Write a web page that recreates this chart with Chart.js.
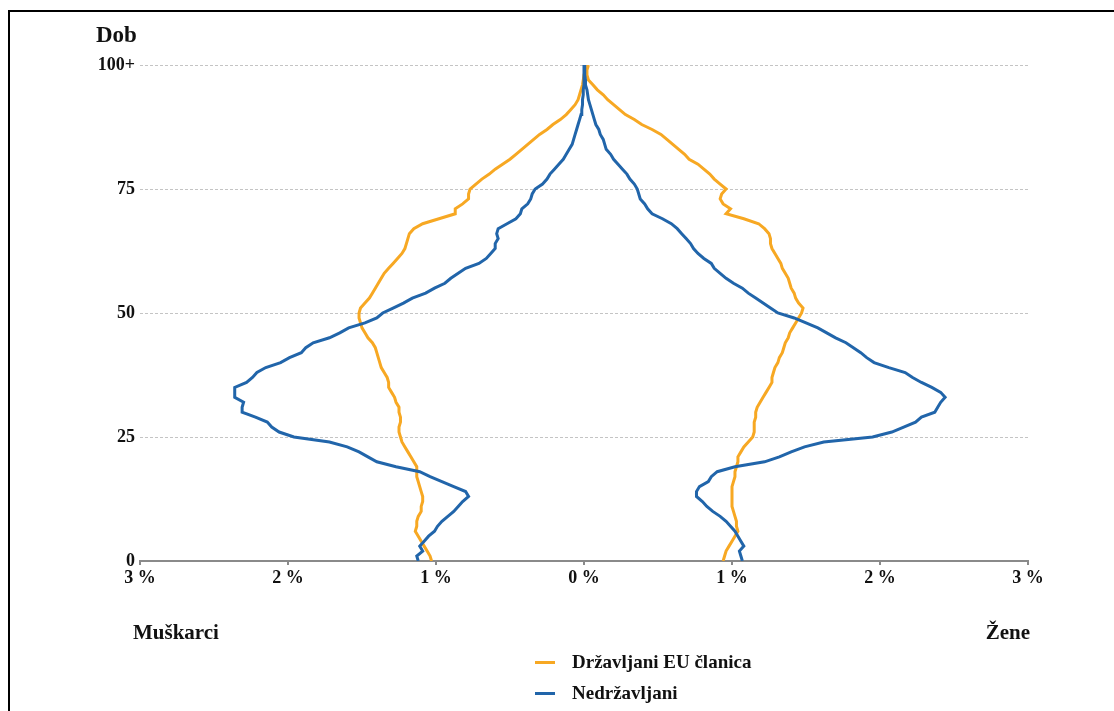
<!DOCTYPE html>
<html>
<head>
<meta charset="utf-8">
<script src="https://cdn.jsdelivr.net/npm/chart.js@4"></script>
<style>
  html, body { margin: 0; padding: 0; background: #fff; }
  body { width: 1114px; height: 711px; position: relative; overflow: hidden; font-family: "Liberation Serif", serif; font-weight: bold; color: #111; }
  #frame { position: absolute; left: 8px; top: 10px; width: 1200px; height: 760px; border-left: 2px solid #000; border-top: 2px solid #000; }
  #wrap { position: absolute; left: 0; top: 0; width: 1114px; height: 711px; }
  .lbl { position: absolute; white-space: nowrap; line-height: 1; }
  .key { position: absolute; width: 20px; height: 3px; }
</style>
</head>
<body>
<div id="frame"></div>
<div id="wrap"><canvas id="pyramidChart"></canvas></div>
<div class="lbl" style="left:96px; top:23px; font-size:23px;">Dob</div>
<div class="lbl" style="left:133px; top:622px; font-size:21px;">Muškarci</div>
<div class="lbl" style="right:84px; top:622px; font-size:21px;">Žene</div>
<div class="key" style="left:535px; top:661px; background:#F7A823;"></div>
<div class="lbl" style="left:572px; top:652px; font-size:19px;">Državljani EU članica</div>
<div class="key" style="left:535px; top:692px; background:#2165AA;"></div>
<div class="lbl" style="left:572px; top:683px; font-size:19px;">Nedržavljani</div>
<script>
// age 0 .. 100+
var ages = [];
for (var a = 0; a <= 100; a++) ages.push(a);

// share of population in %, men on the left (negative)
var nonNationalsMen = [
  -1.12, -1.13, -1.09, -1.11, -1.08, -1.05, -1.01, -0.99, -0.96, -0.92,
  -0.88, -0.85, -0.82, -0.78, -0.80, -0.88, -0.96, -1.04, -1.11, -1.27,
  -1.40, -1.46, -1.52, -1.60, -1.72, -1.96, -2.06, -2.11, -2.14, -2.22,
  -2.31, -2.31, -2.30, -2.36, -2.36, -2.36, -2.28, -2.24, -2.21, -2.15,
  -2.05, -1.99, -1.91, -1.88, -1.83, -1.72, -1.65, -1.59, -1.48, -1.40,
  -1.36, -1.29, -1.22, -1.16, -1.07, -1.01, -0.94, -0.90, -0.85, -0.80,
  -0.71, -0.66, -0.63, -0.60, -0.60, -0.58, -0.59, -0.58, -0.52, -0.46,
  -0.43, -0.42, -0.38, -0.36, -0.35, -0.33, -0.28, -0.25, -0.23, -0.20,
  -0.17, -0.14, -0.12, -0.10, -0.08, -0.07, -0.06, -0.05, -0.04, -0.03,
  -0.02, -0.015, -0.01, -0.01, -0.005, -0.005, 0, 0, 0, 0, 0
];
var nonNationalsWomen = [
  1.07, 1.06, 1.05, 1.08, 1.06, 1.04, 1.02, 0.99, 0.96, 0.92,
  0.87, 0.83, 0.80, 0.76, 0.76, 0.78, 0.84, 0.86, 0.90, 1.02,
  1.22, 1.32, 1.40, 1.49, 1.62, 1.95, 2.08, 2.16, 2.24, 2.28,
  2.37, 2.39, 2.41, 2.44, 2.41, 2.35, 2.28, 2.22, 2.17, 2.06,
  1.96, 1.91, 1.87, 1.82, 1.77, 1.70, 1.64, 1.58, 1.50, 1.42,
  1.31, 1.26, 1.21, 1.16, 1.11, 1.07, 1.01, 0.96, 0.92, 0.88,
  0.86, 0.81, 0.77, 0.74, 0.72, 0.69, 0.66, 0.63, 0.59, 0.53,
  0.46, 0.43, 0.41, 0.38, 0.37, 0.36, 0.34, 0.31, 0.29, 0.26,
  0.23, 0.20, 0.18, 0.15, 0.14, 0.13, 0.11, 0.10, 0.08, 0.07,
  0.06, 0.05, 0.04, 0.03, 0.025, 0.02, 0.01, 0.01, 0.005, 0.005, 0.005
];
var euCitizensMen = [
  -1.03, -1.04, -1.06, -1.08, -1.10, -1.12, -1.14, -1.13, -1.13, -1.12,
  -1.10, -1.10, -1.09, -1.09, -1.10, -1.11, -1.12, -1.13, -1.13, -1.13,
  -1.15, -1.17, -1.19, -1.21, -1.23, -1.24, -1.25, -1.25, -1.24, -1.24,
  -1.25, -1.25, -1.27, -1.28, -1.30, -1.32, -1.32, -1.33, -1.35, -1.37,
  -1.38, -1.39, -1.40, -1.41, -1.43, -1.46, -1.48, -1.50, -1.51, -1.52,
  -1.52, -1.51, -1.48, -1.45, -1.43, -1.41, -1.39, -1.37, -1.35, -1.32,
  -1.29, -1.26, -1.23, -1.21, -1.20, -1.19, -1.18, -1.15, -1.09, -0.98,
  -0.87, -0.87, -0.82, -0.78, -0.78, -0.77, -0.73, -0.69, -0.64, -0.60,
  -0.55, -0.50, -0.46, -0.42, -0.38, -0.34, -0.30, -0.25, -0.21, -0.16,
  -0.12, -0.09, -0.06, -0.04, -0.03, -0.02, -0.01, -0.005, 0, 0.005, 0.01
];
var euCitizensWomen = [
  0.94, 0.95, 0.96, 0.98, 1.00, 1.02, 1.04, 1.03, 1.03, 1.02,
  1.01, 1.00, 1.00, 1.00, 1.00, 1.00, 1.01, 1.02, 1.02, 1.03,
  1.04, 1.04, 1.06, 1.08, 1.11, 1.14, 1.15, 1.15, 1.15, 1.16,
  1.16, 1.17, 1.19, 1.21, 1.23, 1.25, 1.27, 1.27, 1.28, 1.29,
  1.31, 1.32, 1.34, 1.35, 1.36, 1.38, 1.39, 1.41, 1.43, 1.45,
  1.47, 1.48, 1.45, 1.43, 1.42, 1.40, 1.39, 1.38, 1.36, 1.34,
  1.33, 1.31, 1.29, 1.27, 1.26, 1.26, 1.25, 1.22, 1.18, 1.08,
  0.96, 0.99, 0.94, 0.92, 0.93, 0.96, 0.92, 0.88, 0.85, 0.81,
  0.77, 0.71, 0.68, 0.64, 0.60, 0.56, 0.52, 0.46, 0.39, 0.34,
  0.28, 0.24, 0.20, 0.16, 0.13, 0.09, 0.06, 0.03, 0.02, 0.02, 0.03
];

var xTicks = [-3, -2, -1, 0, 1, 2, 3];
var yTicks = [0, 25, 50, 75, 100];

var orange = '#F7A823';
var blue = '#2165AA';

function points(values) {
  return values.map(function (v, i) { return { x: v, y: ages[i] }; });
}

function series(values, color) {
  return {
    data: points(values),
    borderColor: color,
    backgroundColor: color,
    borderWidth: 3,
    pointRadius: 0,
    showLine: true,
    tension: 0,
    fill: false
  };
}

// canvas size fixed to the page
var cv = document.getElementById('pyramidChart');
cv.width = 1114;
cv.height = 711;
cv.style.width = '1114px';
cv.style.height = '711px';

document.addEventListener('DOMContentLoaded', function () {
  var ctx = cv.getContext('2d');
  var tickFont = { family: 'Liberation Serif', size: 18, weight: 'bold' };

  new Chart(ctx, {
    type: 'scatter',
    data: {
      datasets: [
        series(nonNationalsMen, blue),
        series(nonNationalsWomen, blue),
        series(euCitizensMen, orange),
        series(euCitizensWomen, orange)
      ]
    },
    options: {
      responsive: false,
      animation: false,
      layout: { padding: { top: 65, right: 86, bottom: 118, left: 0 } },
      plugins: { legend: { display: false }, tooltip: { enabled: false } },
      scales: {
        x: {
          type: 'linear',
          min: -3,
          max: 3,
          afterBuildTicks: function (scale) {
            scale.ticks = xTicks.map(function (v) { return { value: v }; });
          },
          afterFit: function (scale) { scale.height = 32; },
          border: { display: true, color: '#8a8a8a', width: 2 },
          grid: { drawOnChartArea: false, drawTicks: true, tickLength: 4, color: '#8a8a8a', lineWidth: 2 },
          ticks: {
            color: '#111',
            font: tickFont,
            padding: 3,
            maxRotation: 0,
            callback: function (v) { return Math.abs(v) + ' %'; }
          }
        },
        y: {
          type: 'linear',
          min: 0,
          max: 100,
          afterBuildTicks: function (scale) {
            scale.ticks = yTicks.map(function (v) { return { value: v }; });
          },
          afterFit: function (scale) { scale.width = 140; },
          border: { display: false, dash: [3, 2] },
          grid: { drawTicks: false, color: '#c4c4c4', lineWidth: 1 },
          ticks: {
            color: '#111',
            font: tickFont,
            padding: 5,
            callback: function (v) { return v === 100 ? '100+' : v; }
          }
        }
      }
    }
  });
});
</script>
</body>
</html>
